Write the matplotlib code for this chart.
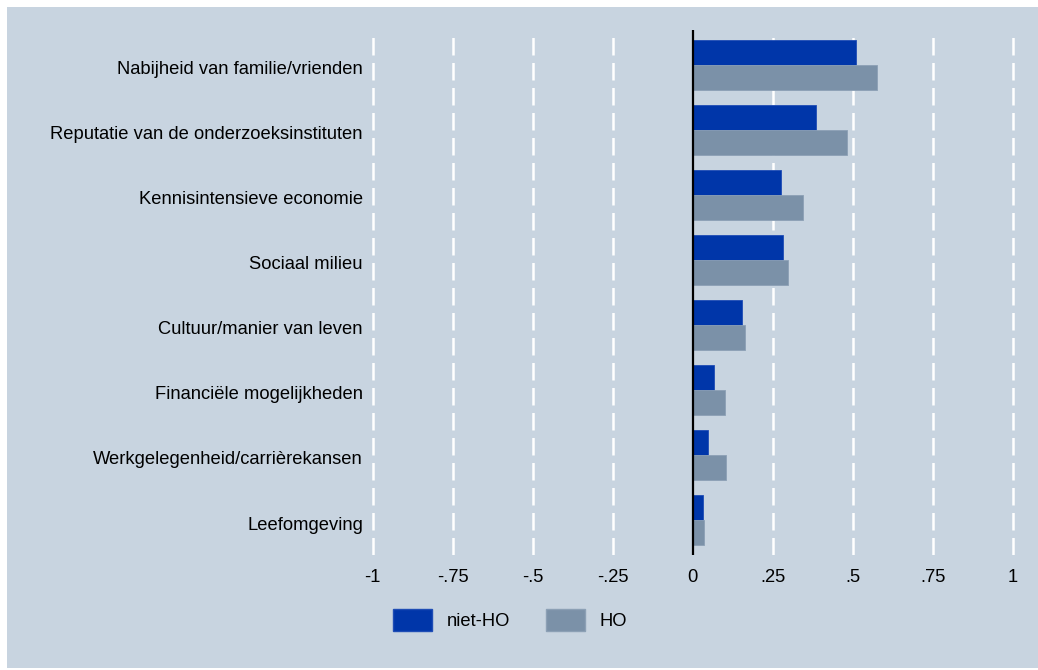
import numpy as np
import matplotlib
matplotlib.use("Agg")
import matplotlib.pyplot as plt
import matplotlib.transforms as mtransforms
from matplotlib.patches import Rectangle, Patch

plt.rcParams['font.family'] = ['Liberation Sans', 'DejaVu Sans']

categories = [
    "Nabijheid van familie/vrienden",
    "Reputatie van de onderzoeksinstituten",
    "Kennisintensieve economie",
    "Sociaal milieu",
    "Cultuur/manier van leven",
    "Financiële mogelijkheden",
    "Werkgelegenheid/carrièrekansen",
    "Leefomgeving",
]
niet_ho = [0.510, 0.385, 0.276, 0.282, 0.155, 0.068, 0.048, 0.032]
ho = [0.575, 0.482, 0.345, 0.299, 0.162, 0.100, 0.105, 0.035]
xticks = [-1, -0.75, -0.5, -0.25, 0, 0.25, 0.5, 0.75, 1]
xticklabels = ["-1", "-.75", "-.5", "-.25", "0", ".25", ".5", ".75", "1"]

bg = "#C8D4E0"
blue = "#0036A9"
grey = "#7B91A8"
fs = 13.2

W, H = 1038, 670
fig = plt.figure(figsize=(W / 100, H / 100), dpi=100)
fig.patch.set_facecolor("white")
fig.patches.append(Rectangle((7 / W, 0.003), 1 - 7 / W, 1 - 7 / H - 0.003,
                             transform=fig.transFigure, facecolor=bg,
                             edgecolor="none", zorder=-10))

# axes placed so that x=-1..1 maps to the plot region
x0, x1 = 372.7, 1012.7
pad = 3.2
ax = fig.add_axes([(x0 - pad) / W, (H - 555) / H, (x1 - x0 + 2 * pad) / W, 525 / H])
ax.patch.set_alpha(0)
for s in ax.spines.values():
    s.set_visible(False)

y = np.arange(len(categories))
h = 25 / 65
ax.barh(y - h / 2, niet_ho, height=h, color=blue, edgecolor="#1F4DB5",
        linewidth=0.6, zorder=3)
ax.barh(y + h / 2, ho, height=h, color=grey, edgecolor="#8CA0B5",
        linewidth=0.6, zorder=3)

ax.set_xlim(-1 - pad / 320, 1 + pad / 320)
ax.set_ylim(len(categories) - 1 + 35 / 65, -35 / 65)

for xv in xticks:
    if xv == 0:
        continue
    ax.axvline(xv, color="white", linewidth=1.8, dashes=(7, 3), zorder=1)
ax.axvline(0, color="black", linewidth=1.6, zorder=4)

ax.set_xticks(xticks)
ax.set_xticklabels(xticklabels, fontsize=fs)
ax.set_yticks(y)
ax.set_yticklabels(categories, fontsize=fs)
ax.tick_params(axis="both", length=0, colors="black")
ax.tick_params(axis="x", pad=10)
ax.tick_params(axis="y", pad=4.7)

# nudge category labels down a little
shift = mtransforms.ScaledTranslation(0, -3 / 100, fig.dpi_scale_trans)
for lab in ax.get_yticklabels():
    lab.set_transform(lab.get_transform() + shift)

handles = [Patch(facecolor=blue, edgecolor="#1F4DB5", label="niet-HO"),
           Patch(facecolor=grey, edgecolor="#8CA0B5", label="HO")]
fig.legend(handles=handles, loc="center left", bbox_to_anchor=(376 / W, 1 - 620 / H),
           ncol=2, frameon=False, fontsize=fs, handlelength=2.15, handleheight=1.4,
           handletextpad=0.8, columnspacing=1.95)

fig.savefig("out.png", dpi=100, facecolor=fig.get_facecolor())
